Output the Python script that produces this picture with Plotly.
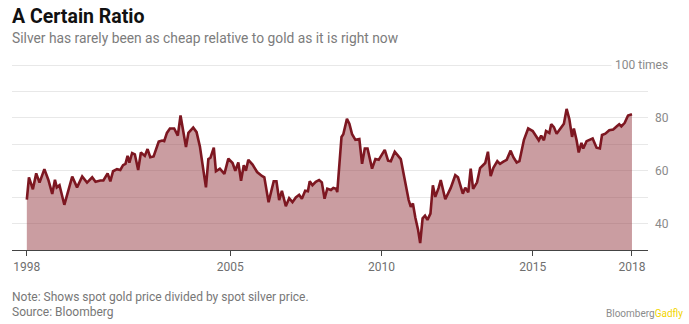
import plotly.graph_objects as go

# Gold/silver price ratio, decimal-year positions and values
years = [
    1998.28, 1998.35, 1998.48, 1998.59, 1998.70, 1998.86, 1998.99, 1999.12, 1999.21, 1999.27,
    1999.36, 1999.52, 1999.78, 1999.94, 2000.11, 2000.27, 2000.44, 2000.55, 2000.71, 2000.81,
    2000.95, 2001.04, 2001.13, 2001.26, 2001.37, 2001.46, 2001.54, 2001.61, 2001.67, 2001.76,
    2001.85, 2001.96, 2002.05, 2002.18, 2002.27, 2002.36, 2002.47, 2002.64, 2002.75, 2002.82,
    2002.91, 2003.01, 2003.15, 2003.27, 2003.36, 2003.54, 2003.62, 2003.78, 2003.89, 2004.00,
    2004.11, 2004.20, 2004.28, 2004.35, 2004.46, 2004.53, 2004.66, 2004.81, 2004.94, 2005.08,
    2005.17, 2005.27, 2005.36, 2005.45, 2005.52, 2005.60, 2005.74, 2005.89, 2006.05, 2006.13,
    2006.27, 2006.44, 2006.53, 2006.62, 2006.71, 2006.84, 2006.95, 2007.06, 2007.17, 2007.28,
    2007.37, 2007.48, 2007.57, 2007.63, 2007.72, 2007.83, 2007.94, 2008.03, 2008.12, 2008.21,
    2008.33, 2008.41, 2008.50, 2008.54, 2008.68, 2008.74, 2008.86, 2008.94, 2009.03, 2009.14,
    2009.27, 2009.36, 2009.45, 2009.54, 2009.69, 2009.80, 2009.91, 2010.11, 2010.22, 2010.31,
    2010.44, 2010.57, 2010.64, 2010.75, 2010.90, 2010.97, 2011.04, 2011.12, 2011.21, 2011.28,
    2011.36, 2011.44, 2011.52, 2011.62, 2011.70, 2011.78, 2011.89, 2011.96, 2012.11, 2012.29,
    2012.44, 2012.53, 2012.69, 2012.77, 2012.87, 2012.95, 2013.03, 2013.16, 2013.26, 2013.43,
    2013.52, 2013.61, 2013.70, 2013.83, 2013.92, 2014.03, 2014.14, 2014.27, 2014.36, 2014.47,
    2014.56, 2014.71, 2014.85, 2015.00, 2015.20, 2015.28, 2015.37, 2015.44, 2015.55, 2015.61,
    2015.70, 2015.79, 2015.95, 2016.03, 2016.12, 2016.21, 2016.30, 2016.36, 2016.45, 2016.52,
    2016.61, 2016.67, 2016.78, 2016.92, 2016.98, 2017.11, 2017.22, 2017.29, 2017.40, 2017.53,
    2017.66, 2017.78, 2017.86, 2017.93, 2018.04, 2018.15, 2018.28,
]
ratio = [
    49.1, 57.5, 53.0, 59.0, 55.5, 60.6, 56.6, 51.2, 56.6, 53.7,
    54.5, 47.1, 57.8, 53.7, 57.8, 55.5, 57.5, 55.8, 56.3, 56.3,
    59.0, 56.0, 59.8, 60.6, 60.3, 62.1, 62.6, 65.6, 63.1, 66.7,
    66.2, 60.3, 66.9, 65.6, 68.2, 65.1, 65.4, 71.0, 71.4, 71.2,
    74.3, 76.0, 76.0, 73.3, 80.9, 69.0, 74.3, 76.3, 74.6, 69.2,
    60.6, 53.7, 64.4, 64.9, 68.7, 59.8, 60.8, 58.8, 64.6, 62.9,
    60.0, 63.1, 56.2, 62.1, 60.0, 64.1, 62.3, 59.5, 58.0, 57.5,
    48.1, 56.0, 56.0, 48.9, 52.4, 46.6, 49.6, 48.1, 49.9, 50.9,
    49.4, 52.4, 52.2, 56.0, 54.5, 55.8, 56.5, 55.6, 49.4, 53.2,
    52.7, 53.5, 53.2, 51.9, 72.8, 73.8, 79.6, 77.8, 73.8, 71.7,
    72.0, 62.6, 68.4, 68.4, 60.8, 64.4, 64.1, 67.9, 63.8, 63.6,
    67.2, 65.6, 64.4, 57.8, 48.9, 46.3, 47.6, 42.3, 37.7, 32.6,
    42.0, 43.0, 41.4, 43.8, 54.5, 50.1, 53.5, 56.5, 49.2, 53.5,
    58.3, 57.5, 51.3, 53.6, 51.8, 60.8, 53.1, 55.6, 61.0, 62.9,
    67.2, 58.0, 61.1, 63.6, 62.6, 63.4, 64.1, 67.6, 65.1, 63.1,
    63.6, 71.7, 76.0, 75.0, 71.5, 73.3, 71.5, 75.0, 74.3, 77.6,
    76.5, 74.0, 76.3, 77.8, 83.4, 79.6, 72.8, 76.0, 71.5, 66.9,
    70.5, 68.4, 71.2, 71.7, 72.2, 68.7, 68.4, 73.5, 74.0, 75.3,
    75.6, 76.8, 77.6, 76.8, 78.1, 80.9, 81.4,
]

x_tick_vals = [1998.28, 2005, 2010, 2015, 2018.28]
x_tick_text = ["1998", "2005", "2010", "2015", "2018"]
y_grid_vals = [30, 40, 50, 60, 70, 80, 90, 100]
y_label_vals = [40, 60, 80]

LINE = "#7d1721"
FILL = "rgba(150, 60, 68, 0.50)"
GRID = "#e8e8e8"
LABEL = "#8a8a8a"
FONT = "Roboto, 'Open Sans', sans-serif"

fig = go.Figure()
fig.add_trace(go.Scatter(
    x=years, y=ratio, mode="lines",
    line=dict(color=LINE, width=2.6),
    fill="tozeroy", fillcolor=FILL,
    hoverinfo="skip",
))

PLOT_H = 187  # plot-area height in px, used to place text in paper units


def py(pixel_y):
    """Convert a page y-pixel into paper units (plot spans 63..250)."""
    return (250 - pixel_y) / PLOT_H


annotations = [
    dict(text="<b>A Certain Ratio</b>", x=0, xshift=-2, y=py(16),
         font=dict(size=19.5, color="#111111", family=FONT)),
    dict(text="Silver has rarely been as cheap relative to gold as it is right now",
         x=0, xshift=-2, y=py(38), font=dict(size=13.8, color="#7c7c7c", family=FONT)),
    dict(text="Note: Shows spot gold price divided by spot silver price.",
         x=0, xshift=-2, y=py(297), font=dict(size=12, color="#777777", family=FONT)),
    dict(text="Source: Bloomberg",
         x=0, xshift=-2, y=py(312), font=dict(size=12, color="#777777", family=FONT)),
]
for a in annotations:
    a.update(xref="paper", yref="paper", xanchor="left", yanchor="middle",
             showarrow=False)

for v in y_label_vals:
    annotations.append(dict(
        text=str(v), xref="paper", yref="y", x=1, xshift=5, y=v,
        xanchor="left", yanchor="middle", showarrow=False,
        font=dict(size=12, color=LABEL, family=FONT)))
annotations.append(dict(
    text="100 times", xref="paper", yref="y", x=1, xshift=24, y=100,
    xanchor="right", yanchor="middle", showarrow=False, bgcolor="white",
    borderpad=3, font=dict(size=12, color=LABEL, family=FONT)))
annotations.append(dict(
    text="<span style='color:#8c8c8c'>Bloomberg</span><span style='color:#f2d500'>Gadfly</span>",
    xref="paper", yref="paper", x=1, xshift=37, y=py(313),
    xanchor="right", yanchor="middle", showarrow=False,
    font=dict(size=10, family=FONT)))

fig.update_layout(
    width=689, height=324,
    margin=dict(l=12, r=41, t=63, b=74, pad=0),
    paper_bgcolor="white", plot_bgcolor="white",
    showlegend=False,
    annotations=annotations,
    xaxis=dict(
        range=[1997.79, 2018.81],
        tickvals=x_tick_vals, ticktext=x_tick_text,
        ticks="outside", ticklen=5, tickcolor="#444444", tickwidth=1,
        showline=True, linecolor="#444444", linewidth=1.2,
        showgrid=False, zeroline=False,
        tickfont=dict(size=12, color="#6f6f6f", family=FONT),
    ),
    yaxis=dict(
        range=[30, 100.76],
        tickvals=y_grid_vals, showticklabels=False,
        showgrid=True, gridcolor=GRID, gridwidth=1,
        zeroline=False, showline=False, ticks="",
    ),
)

fig.write_html("out.html")
